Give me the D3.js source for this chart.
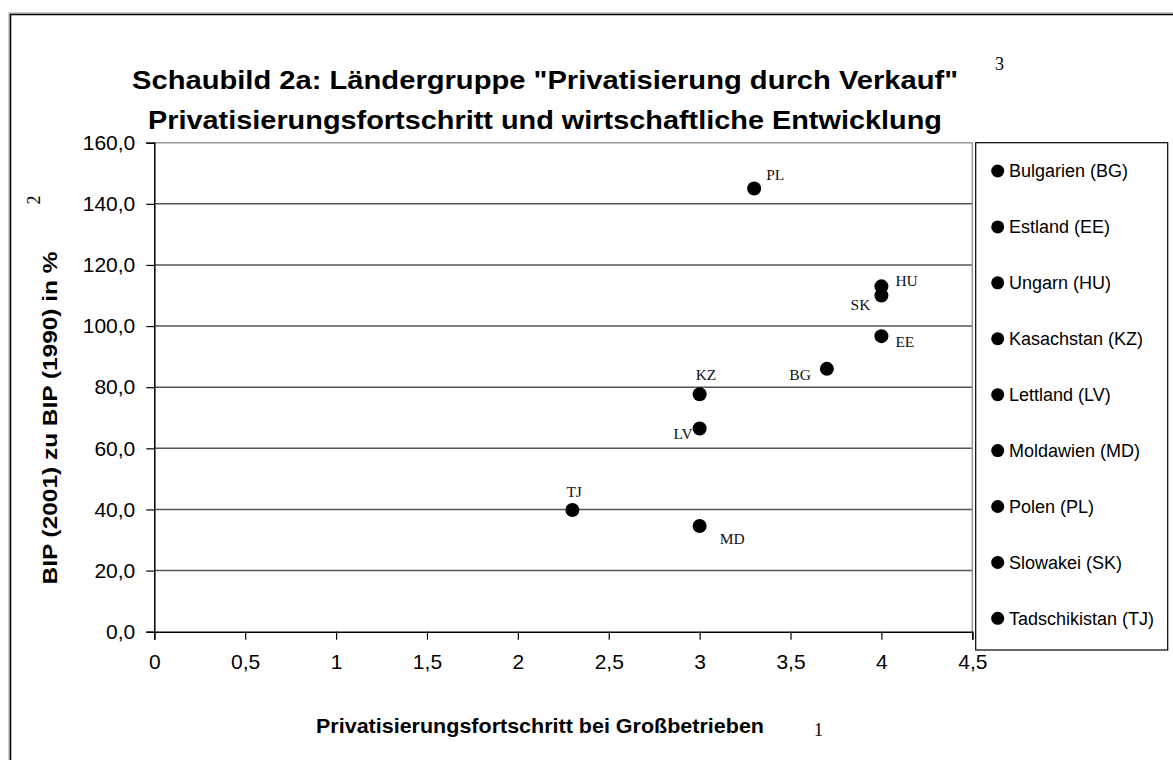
<!DOCTYPE html>
<html>
<head>
<meta charset="utf-8">
<script src="https://cdn.jsdelivr.net/npm/d3@7"></script>
<style>
  body { margin: 0; background: #fff; }
  svg { display: block; }
</style>
</head>
<body>
<svg id="root"></svg>
<script>
// data
const codes = ["PL", "HU", "SK", "EE", "BG", "KZ", "LV", "TJ", "MD"];
const progress = [3.3, 4, 4, 4, 3.7, 3, 3, 2.3, 3];
const gdpRatio = [145, 113, 110, 96.7, 86, 77.7, 66.5, 39.8, 34.6];
const legendNames = [
  "Bulgarien (BG)", "Estland (EE)", "Ungarn (HU)", "Kasachstan (KZ)",
  "Lettland (LV)", "Moldawien (MD)", "Polen (PL)", "Slowakei (SK)",
  "Tadschikistan (TJ)"
];
const xTicks = [0, 0.5, 1, 1.5, 2, 2.5, 3, 3.5, 4, 4.5];
const yTicks = [0, 20, 40, 60, 80, 100, 120, 140, 160];

// where each point label sits relative to its dot
const labelPos = {
  PL: { dx: 12, dy: -9, anchor: "start" },
  HU: { dx: 14, dy: 0, anchor: "start" },
  SK: { dx: -11, dy: 14, anchor: "end" },
  EE: { dx: 14, dy: 11, anchor: "start" },
  BG: { dx: -16, dy: 11, anchor: "end" },
  KZ: { dx: -4, dy: -14, anchor: "start" },
  LV: { dx: -7, dy: 11, anchor: "end" },
  TJ: { dx: -6, dy: -13, anchor: "start" },
  MD: { dx: 20, dy: 18, anchor: "start" }
};

const draw = () => {
  const width = 1173,
    height = 760;
  const plot = { left: 154.3, top: 142.7, right: 972.3, bottom: 631.7 };

  const locale = d3.formatLocale({
    decimal: ",", thousands: ".", grouping: [3], currency: ["", " €"]
  });
  const fmtY = locale.format(".1f");
  const fmtX = locale.format(".1~f");

  const x = d3.scaleLinear().domain([0, 4.5]).range([plot.left, plot.right]);
  const y = d3.scaleLinear().domain([0, 160]).range([plot.bottom, plot.top]);

  const svg = d3.select("svg#root")
    .attr("width", width)
    .attr("height", height)
    .attr("viewBox", [0, 0, width, height]);

  // outer frame (runs off the picture on right and bottom)
  svg.append("rect")
    .attr("x", 9).attr("y", 13)
    .attr("width", 1300).attr("height", 900)
    .attr("fill", "none").attr("stroke", "#999").attr("stroke-width", 1);
  svg.append("rect")
    .attr("x", 10.5).attr("y", 14.5)
    .attr("width", 1300).attr("height", 900)
    .attr("fill", "none").attr("stroke", "#000").attr("stroke-width", 1.5);

  // gridlines
  svg.append("g")
    .selectAll("line")
    .data(yTicks.slice(1))
    .join("line")
    .attr("x1", plot.left).attr("x2", plot.right)
    .attr("y1", (d) => y(d)).attr("y2", (d) => y(d))
    .attr("stroke", (d) => (d === 160 ? "#999" : "#555"))
    .attr("stroke-width", 1.5);

  // right plot border
  svg.append("line")
    .attr("x1", plot.right).attr("x2", plot.right)
    .attr("y1", plot.top).attr("y2", plot.bottom)
    .attr("stroke", "#999").attr("stroke-width", 1.5);

  // y axis
  const yAxis = svg.append("g")
    .attr("transform", `translate(${plot.left},0)`)
    .call(d3.axisLeft(y).tickValues(yTicks).tickFormat(fmtY).tickSize(8).tickPadding(11));
  // x axis
  const xAxis = svg.append("g")
    .attr("transform", `translate(0,${plot.bottom})`)
    .call(d3.axisBottom(x).tickValues(xTicks).tickFormat(fmtX).tickSize(8).tickPadding(22));

  [yAxis, xAxis].forEach((a) => {
    a.select(".domain").attr("stroke", "#000").attr("stroke-width", 1.5);
    a.selectAll(".tick line").attr("stroke", "#000").attr("stroke-width", 1.2);
    a.selectAll(".tick text")
      .attr("fill", "#000")
      .attr("font-family", "Liberation Sans, Arial, sans-serif")
      .attr("font-size", "21px");
  });
  xAxis.selectAll(".tick text").attr("dy", "0.35em");

  // points
  const pts = codes.map((c, i) => ({ code: c, px: progress[i], py: gdpRatio[i] }));
  svg.append("g")
    .selectAll("circle")
    .data(pts)
    .join("circle")
    .attr("cx", (d) => x(d.px))
    .attr("cy", (d) => y(d.py))
    .attr("r", 7)
    .attr("fill", "#000");

  svg.append("g")
    .selectAll("text")
    .data(pts)
    .join("text")
    .attr("x", (d) => x(d.px) + labelPos[d.code].dx)
    .attr("y", (d) => y(d.py) + labelPos[d.code].dy)
    .attr("text-anchor", (d) => labelPos[d.code].anchor)
    .attr("font-family", "Liberation Serif, Times New Roman, serif")
    .attr("font-size", "15.5px")
    .attr("fill", "#111")
    .text((d) => d.code);

  // legend
  const legendTop = 142.7, legendBottom = 650;
  svg.append("rect")
    .attr("x", 975.7).attr("y", legendTop)
    .attr("width", 192).attr("height", legendBottom - legendTop)
    .attr("fill", "#fff").attr("stroke", "#000").attr("stroke-width", 1.2);
  const ly = d3.scalePoint().domain(legendNames).range([171, 618.3]);
  const item = svg.append("g")
    .selectAll("g")
    .data(legendNames)
    .join("g")
    .attr("transform", (d) => `translate(0,${ly(d)})`);
  item.append("circle").attr("cx", 997.7).attr("cy", 0).attr("r", 6.5).attr("fill", "#000");
  item.append("text")
    .attr("x", 1009).attr("y", 0).attr("dy", "0.35em")
    .attr("font-family", "Liberation Sans, Arial, sans-serif")
    .attr("font-size", "18px")
    .attr("fill", "#000")
    .text((d) => d);

  // titles
  const title = svg.append("g")
    .attr("font-family", "Liberation Sans, Arial, sans-serif")
    .attr("font-weight", "bold")
    .attr("font-size", "26px")
    .attr("fill", "#000")
    .attr("text-anchor", "middle");
  title.append("text")
    .attr("x", 545).attr("y", 89)
    .attr("textLength", 826).attr("lengthAdjust", "spacingAndGlyphs")
    .text('Schaubild 2a: Ländergruppe "Privatisierung durch Verkauf"');
  title.append("text")
    .attr("x", 545).attr("y", 129)
    .attr("textLength", 794).attr("lengthAdjust", "spacingAndGlyphs")
    .text("Privatisierungsfortschritt und wirtschaftliche Entwicklung");

  svg.append("text")
    .attr("x", 540).attr("y", 733)
    .attr("text-anchor", "middle")
    .attr("font-family", "Liberation Sans, Arial, sans-serif")
    .attr("font-weight", "bold").attr("font-size", "21px")
    .attr("textLength", 448).attr("lengthAdjust", "spacingAndGlyphs")
    .text("Privatisierungsfortschritt bei Großbetrieben");

  svg.append("text")
    .attr("transform", "translate(57,418) rotate(-90)")
    .attr("text-anchor", "middle")
    .attr("font-family", "Liberation Sans, Arial, sans-serif")
    .attr("font-weight", "bold").attr("font-size", "21px")
    .attr("textLength", 333).attr("lengthAdjust", "spacingAndGlyphs")
    .text("BIP (2001) zu BIP (1990) in %");

  // footnote markers
  const note = svg.append("g")
    .attr("font-family", "Liberation Serif, Times New Roman, serif")
    .attr("font-size", "18px")
    .attr("fill", "#000");
  note.append("text").attr("x", 995).attr("y", 70).text("3");
  note.append("text").attr("x", 814).attr("y", 736).text("1");
  note.append("text")
    .attr("transform", "translate(40,200) rotate(-90)")
    .attr("text-anchor", "middle")
    .text("2");

  return svg.node();
};

draw();
</script>
</body>
</html>
